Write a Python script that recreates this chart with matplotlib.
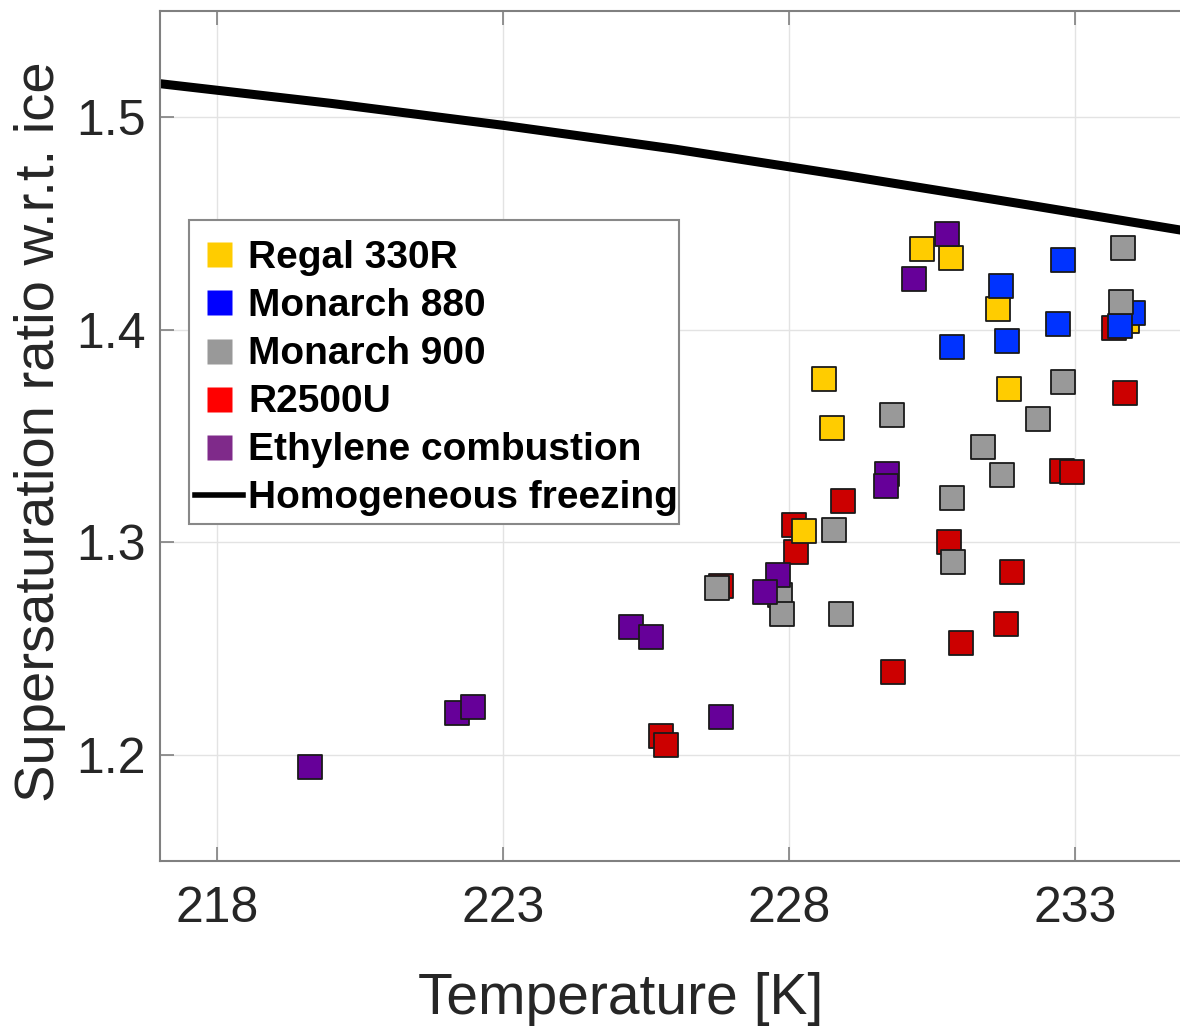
import matplotlib
matplotlib.use("Agg")
import matplotlib.pyplot as plt
from matplotlib.lines import Line2D
from matplotlib.patches import Rectangle

plt.rcParams['font.family'] = ['Liberation Sans', 'DejaVu Sans']

# ---------------- data ----------------
regal_T = [230.32, 230.82, 231.65, 228.60, 231.84, 228.75, 228.25, 233.90]
regal_S = [1.438, 1.434, 1.410, 1.377, 1.372, 1.354, 1.3055, 1.404]

m880_T = [231.70, 232.79, 234.00, 233.78, 232.70, 231.80, 230.84]
m880_S = [1.4205, 1.433, 1.408, 1.402, 1.4027, 1.3948, 1.3917]

m900_T = [233.83, 233.80, 232.79, 229.80, 232.35, 231.39, 231.72, 230.84,
          228.79, 230.86, 226.73, 227.83, 227.87, 228.91]
m900_S = [1.4386, 1.413, 1.3755, 1.3599, 1.358, 1.3446, 1.3315, 1.3206,
          1.3058, 1.2905, 1.2787, 1.2753, 1.2663, 1.2663]

r2500_T = [233.68, 233.87, 232.77, 232.95, 228.94, 228.08, 228.12, 230.79,
           231.90, 226.80, 231.79, 231.01, 229.81, 225.76, 225.85]
r2500_S = [1.401, 1.3704, 1.3334, 1.333, 1.3196, 1.308, 1.2954, 1.3003,
           1.2858, 1.2792, 1.2613, 1.2524, 1.2389, 1.2087, 1.2048]

ethyl_T = [230.75, 230.18, 229.71, 229.69, 227.80, 227.57, 225.23, 225.58,
           226.80, 222.20, 222.48, 219.62]
ethyl_S = [1.445, 1.424, 1.3322, 1.3264, 1.2848, 1.2767, 1.2599, 1.2555,
           1.218, 1.2197, 1.2226, 1.1944]

hom_T = [216.0, 217.0, 220.0, 223.0, 226.0, 229.0, 232.0, 235.0, 236.0]
hom_S = [1.5195, 1.5158, 1.5065, 1.4962, 1.4850, 1.4725, 1.4595, 1.4462, 1.4418]

labels = ['Regal 330R', 'Monarch 880', 'Monarch 900', 'R2500U',
          'Ethylene combustion', 'Homogeneous freezing']
plot_colors = ['#FFCC00', '#0033FF', '#999999', '#CC0000', '#660099']
legend_colors = ['#FFCC00', '#0000FF', '#999999', '#FF0000', '#7F2A8A']

xticks = [218, 223, 228, 233]
yticks = [1.2, 1.3, 1.4, 1.5]

# ---------------- figure ----------------
W, H = 1180, 1026
fig = plt.figure(figsize=(W / 100, H / 100), dpi=100)
ax = fig.add_axes([160/W, 1-861/H, 1024/W, 850/H])

ax.plot(hom_T, hom_S, color='black', lw=6.5, zorder=2, solid_capstyle='butt')

series = [(r2500_T, r2500_S, plot_colors[3]),
          (regal_T, regal_S, plot_colors[0]),
          (m880_T, m880_S, plot_colors[1]),
          (m900_T, m900_S, plot_colors[2]),
          (ethyl_T, ethyl_S, plot_colors[4])]
for i, (T, S, c) in enumerate(series):
    ax.scatter(T, S, s=17.0**2, marker='s', c=c, edgecolors='#1a1a1a',
               linewidths=1.3, zorder=3 + i)

ax.set_xlim(217.0, 234.9)
ax.set_ylim(1.15, 1.55)
ax.set_xticks(xticks)
ax.set_yticks(yticks)
ax.set_xticklabels([str(t) for t in xticks])
ax.set_yticklabels([f'{v:.1f}' for v in yticks])

ax.grid(True, color='#e3e3e3', lw=1.0)
ax.set_axisbelow(True)
ax.tick_params(direction='in', length=10, width=1.2, colors='#808080',
               labelcolor='#262626', labelsize=36, top=True, right=False,
               pad=10)
ax.tick_params(axis='x', pad=18)
for side in ['left', 'top', 'bottom', 'right']:
    ax.spines[side].set_color('#808080')
    ax.spines[side].set_linewidth(1.5)

ax.set_xlabel('Temperature [K]', fontsize=41, color='#262626')
ax.xaxis.set_label_coords(0.45, -0.13)
ax.set_ylabel('Supersaturation ratio w.r.t. ice', fontsize=40.5,
              color='#262626')
ax.yaxis.set_label_coords(-0.092, 0.505)

# legend frame drawn separately for exact placement
fig.patches.append(Rectangle((189/W, 1-524/H), 490/W, 304/H,
                             transform=fig.transFigure, facecolor='white',
                             edgecolor='#888888', lw=1.5, zorder=10))

handles = [Line2D([], [], ls='none', marker='s', markersize=18,
                  markerfacecolor=c, markeredgecolor='none')
           for c in legend_colors]
handles.append(Line2D([], [], color='black', lw=4))
leg = fig.legend(handles, labels, loc='upper left',
                 bbox_to_anchor=(195/W, 1-240/H),
                 bbox_transform=fig.transFigure, borderaxespad=0,
                 frameon=False,
                 prop={'weight': 'bold', 'size': 28},
                 handlelength=1.23, handletextpad=0.13, labelspacing=0.31,
                 borderpad=0)
leg.set_zorder(11)

fig.savefig('out.png', dpi=100)
